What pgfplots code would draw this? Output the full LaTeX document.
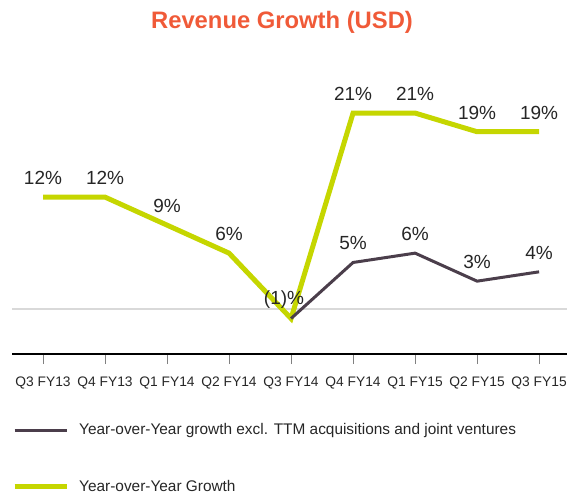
\documentclass[border=0pt]{standalone}
\usepackage{pgfplots}
\pgfplotsset{compat=1.18}
\usepackage{pgfplotstable}
\usepackage{fontspec}
\setmainfont{Liberation Sans}
\definecolor{ygreen}{HTML}{C5D600}
\definecolor{dkline}{HTML}{4B3E4B}
\definecolor{ttl}{HTML}{F05A38}
\definecolor{txt}{HTML}{262626}
\definecolor{zline}{HTML}{D9D9D9}

\pgfplotstableread{
x y lab dx
0 12 12\% 0
1 12 12\% 0
2 9 9\% 0
3 6 6\% 0
4 -1 {} 0
5 21 21\% 0
6 21 21\% 0
7 19 19\% 0
8 19 19\% 0
}\greentab

\pgfplotstableread{
x y lab dx
4 -1 (1)\% -7
5 5 5\% 0
6 6 6\% 0
7 3 3\% 0
8 4 4\% 0
}\darktab

\pgfplotsset{lbl/.style={
  nodes near coords,
  point meta=explicit symbolic,
  visualization depends on={\thisrow{dx} \as \dx},
  every node near coord/.append style={font=\fontsize{19}{19}\selectfont, text=txt, anchor=center, yshift=19pt, xshift=\dx pt},
}}

\begin{document}
\begin{tikzpicture}
\useasboundingbox (0,0) rectangle (568pt,-495pt);
\node[font=\bfseries\fontsize{23.8}{24}\selectfont, text=ttl] at (282pt,-22pt) {Revenue Growth (USD)};
\begin{axis}[
  at={(12pt,-354pt)}, anchor=south west,
  scale only axis,
  width=555pt, height=278.3pt,
  xmin=-0.5, xmax=8.45,
  ymin=-4.8, ymax=25,
  axis y line=none,
  axis x line=bottom,
  x axis line style={-, line width=1.8pt, black},
  xtick={0,...,8},
  xticklabels={Q3 FY13,Q4 FY13,Q1 FY14,Q2 FY14,Q3 FY14,Q4 FY14,Q1 FY15,Q2 FY15,Q3 FY15},
  tick align=outside,
  major tick length=10pt,
  xtick style={line width=0.8pt, color=gray},
  xticklabel style={font=\fontsize{13.8}{14}\selectfont, text=txt, yshift=-9pt},
  clip=false,
  legend style={
    at={(0.0,-0.25)}, anchor=north west,
    draw=none, fill=none, inner sep=0pt,
    font=\fontsize{15.4}{16}\selectfont, text=txt,
    row sep=44pt, column sep=10pt,
    nodes={inner sep=0pt, anchor=west},
  },
  legend cell align=left,
  reverse legend,
  legend image code/.code={\draw[#1] (0pt,0pt) -- (52pt,0pt);},
]
\addplot[zline, line width=1.5pt, forget plot] coordinates {(-0.5,0) (8.45,0)};
\addplot[ygreen, line width=5pt, line join=miter, lbl] table[x=x, y=y, meta=lab] {\greentab};
\addlegendentry{Year-over-Year Growth}
\addplot[dkline, line width=3pt, lbl] table[x=x, y=y, meta=lab] {\darktab};
\addlegendentry{Year-over-Year growth excl. TTM acquisitions and joint ventures}
\end{axis}
\end{tikzpicture}
\end{document}
